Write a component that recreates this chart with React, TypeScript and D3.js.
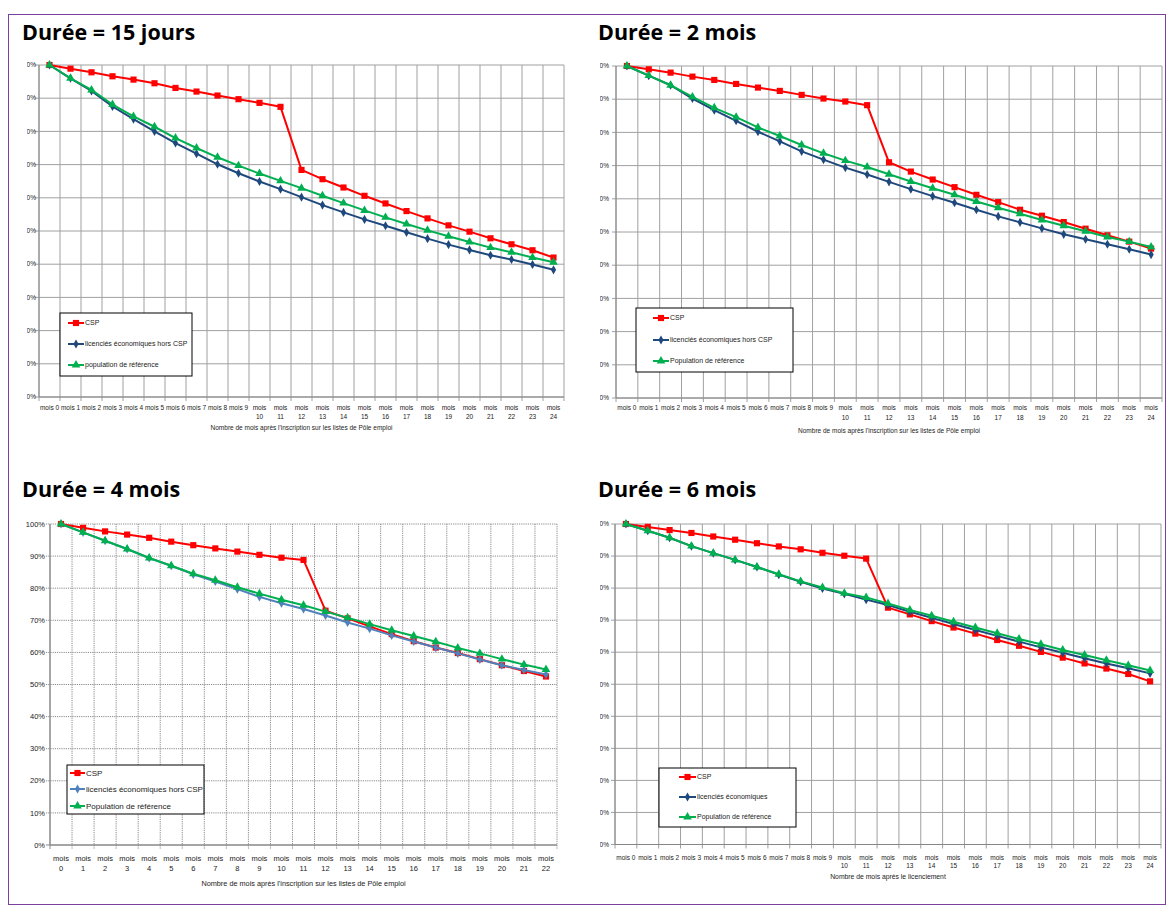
import React from 'react';
import * as d3 from 'd3';

// categories (months)
const mois24 = [0, 1, 2, 3, 4, 5, 6, 7, 8, 9, 10, 11, 12, 13, 14, 15, 16, 17, 18, 19, 20, 21, 22, 23, 24];
const mois22 = [0, 1, 2, 3, 4, 5, 6, 7, 8, 9, 10, 11, 12, 13, 14, 15, 16, 17, 18, 19, 20, 21, 22];
const yTicks = [0, 10, 20, 30, 40, 50, 60, 70, 80, 90, 100];

// Durée = 15 jours
const csp15j = [100, 98.9, 97.8, 96.6, 95.6, 94.5, 93.1, 92.0, 90.8, 89.7, 88.6, 87.4, 68.4, 65.6, 63.1, 60.6, 58.3, 56.0, 53.8, 51.7, 49.8, 47.8, 46.0, 44.2, 42.0];
const lic15j = [100, 96.0, 92.2, 87.5, 83.7, 80.0, 76.5, 73.3, 70.1, 67.4, 64.9, 62.6, 60.2, 57.8, 55.6, 53.5, 51.6, 49.6, 47.7, 45.9, 44.3, 42.7, 41.4, 39.9, 38.3];
const ref15j = [100, 96.0, 92.5, 88.1, 84.5, 81.4, 78.0, 75.0, 72.2, 69.7, 67.3, 65.1, 62.9, 60.6, 58.4, 56.2, 54.1, 52.1, 50.2, 48.4, 46.7, 45.0, 43.6, 42.0, 40.6];

// Durée = 2 mois
const csp2m = [100, 99.0, 98.0, 96.8, 95.8, 94.6, 93.5, 92.5, 91.3, 90.2, 89.3, 88.2, 71.0, 68.2, 65.8, 63.5, 61.2, 59.0, 56.7, 54.9, 53.0, 51.0, 49.0, 47.1, 45.0];
const lic2m = [100, 97.1, 94.2, 90.2, 86.7, 83.5, 80.2, 77.3, 74.3, 71.8, 69.4, 67.3, 65.1, 62.9, 60.8, 58.8, 56.7, 54.7, 52.9, 51.1, 49.3, 47.8, 46.3, 44.8, 43.2];
const ref2m = [100, 97.1, 94.2, 90.7, 87.4, 84.6, 81.5, 78.9, 76.2, 73.7, 71.5, 69.6, 67.4, 65.2, 63.2, 61.2, 59.2, 57.3, 55.5, 53.6, 51.9, 50.2, 48.5, 47.1, 45.5];

// Durée = 4 mois
const csp4m = [100, 98.8, 97.7, 96.7, 95.7, 94.5, 93.4, 92.4, 91.4, 90.4, 89.5, 88.8, 73.0, 70.6, 68.1, 65.7, 63.5, 61.5, 59.8, 57.9, 56.0, 54.2, 52.5];
const lic4m = [100, 97.4, 94.8, 92.2, 89.4, 87.0, 84.3, 82.1, 79.7, 77.3, 75.3, 73.5, 71.5, 69.3, 67.4, 65.3, 63.4, 61.5, 59.7, 57.8, 56.0, 54.5, 53.1];
const ref4m = [100, 97.4, 94.8, 92.2, 89.4, 87.0, 84.5, 82.5, 80.3, 78.3, 76.4, 74.7, 72.7, 70.8, 68.8, 66.9, 65.1, 63.3, 61.4, 59.7, 57.9, 56.2, 54.7];

// Durée = 6 mois
const csp6m = [100, 99.1, 98.1, 97.2, 96.1, 95.1, 94.0, 93.0, 92.1, 91.0, 90.1, 89.2, 73.9, 71.8, 69.7, 67.7, 65.8, 63.8, 62.0, 60.1, 58.3, 56.5, 54.9, 53.2, 50.9];
const lic6m = [100, 97.9, 95.7, 93.1, 90.9, 88.8, 86.6, 84.2, 82.0, 79.9, 78.2, 76.4, 74.7, 72.6, 70.7, 68.8, 66.9, 65.1, 63.3, 61.5, 59.8, 58.1, 56.5, 55.0, 53.4];
const ref6m = [100, 97.9, 95.7, 93.1, 90.9, 88.8, 86.6, 84.3, 82.1, 80.2, 78.4, 77.1, 75.2, 73.2, 71.4, 69.5, 67.7, 65.9, 64.1, 62.5, 60.7, 59.1, 57.5, 55.9, 54.3];

const titreInscription = "Nombre de mois après l'inscription sur les listes de Pôle emploi";
const titreLicenciement = 'Nombre de mois après le licenciement';

const RED = '#FF0000';
const NAVY = '#1F497D';
const LIGHTBLUE = '#4F81BD';
const GREEN = '#00B050';
const FONT = "'Liberation Sans', Arial, sans-serif";

const panels = [
    {
        id: 'p1', title: 'Durée = 15 jours', titleX: 22, titleY: 40,
        categories: mois24, left: 39, right: 564, top: 65, bottom: 397,
        series: [csp15j, lic15j, ref15j], blue: NAVY, dotted: false,
        names: ['CSP', 'licenciés économiques hors CSP', 'population de référence'],
        tickFont: 6.5, wrapAll: false, label1: 408, label2: 417, yLabelRight: 36, clipLeft: 27,
        axisTitle: titreInscription, axisTitleY: 430, axisFont: 6.5,
        legend: { x: 60, y: 313, w: 132, h: 63, rows: [323, 344, 365], lineX: 68, textX: 85, font: 7 }
    },
    {
        id: 'p2', title: 'Durée = 2 mois', titleX: 598, titleY: 40,
        categories: mois24, left: 616, right: 1162, top: 66, bottom: 398,
        series: [csp2m, lic2m, ref2m], blue: NAVY, dotted: false,
        names: ['CSP', 'licenciés économiques hors CSP', 'Population de référence'],
        tickFont: 6.5, wrapAll: false, label1: 408, label2: 417.5, yLabelRight: 609, clipLeft: 600,
        axisTitle: titreInscription, axisTitleY: 433, axisFont: 6.5,
        legend: { x: 636, y: 308, w: 157, h: 64, rows: [318, 340, 361], lineX: 653, textX: 670, font: 7 }
    },
    {
        id: 'p3', title: 'Durée = 4 mois', titleX: 22, titleY: 497,
        categories: mois22, left: 50, right: 557, top: 524, bottom: 845,
        series: [csp4m, lic4m, ref4m], blue: LIGHTBLUE, dotted: true,
        names: ['CSP', 'licenciés économiques hors CSP', 'Population de référence'],
        tickFont: 7.5, wrapAll: true, label1: 858, label2: 868.5, yLabelRight: 45, clipLeft: 0,
        axisTitle: titreInscription, axisTitleY: 886, axisFont: 7.3,
        legend: { x: 67, y: 765, w: 137, h: 49, rows: [773, 789, 806], lineX: 70, textX: 86, font: 8 }
    },
    {
        id: 'p4', title: 'Durée = 6 mois', titleX: 598, titleY: 497,
        categories: mois24, left: 615, right: 1161, top: 524, bottom: 844.5,
        series: [csp6m, lic6m, ref6m], blue: NAVY, dotted: false,
        names: ['CSP', 'licenciés économiques', 'Population de référence'],
        tickFont: 6.5, wrapAll: false, label1: 857.7, label2: 865.5, yLabelRight: 609, clipLeft: 600,
        axisTitle: titreLicenciement, axisTitleY: 879, axisFont: 6.8,
        legend: { x: 659, y: 768, w: 137, h: 59, rows: [777, 797, 817], lineX: 679, textX: 697, font: 7 }
    }
];

const symbols = [
    d3.symbol().type(d3.symbolSquare).size(38),
    d3.symbol().type(d3.symbolDiamond).size(24),
    d3.symbol().type(d3.symbolTriangle).size(32)
];

function Panel({ cfg }: { cfg: any }) {
    const x = d3.scaleBand<string>().domain(cfg.categories.map(String)).range([cfg.left, cfg.right]);
    const y = d3.scaleLinear().domain([0, 100]).range([cfg.bottom, cfg.top]);
    const cx = (c: number) => (x(String(c)) as number) + x.bandwidth() / 2;
    const colors = [RED, cfg.blue, GREEN];
    const gridColor = cfg.dotted ? '#8a8a8a' : '#a0a0a0';
    const dash = cfg.dotted ? '1.2,1' : null;
    const line = d3.line<number>().x((d, i) => cx(cfg.categories[i])).y(d => y(d));
    const bounds = cfg.categories.map((c: number) => x(String(c)) as number).concat([cfg.right]);
    const lg = cfg.legend;

    return (
        <g>
            <text x={cfg.titleX} y={cfg.titleY} fontFamily="'Open Sans', sans-serif" fontWeight={700} fontSize={21.5} fill="#000">
                {cfg.title}
            </text>
            {/* horizontal grid + y ticks */}
            {yTicks.map(t => (
                <line key={'h' + t} x1={cfg.left - 4} x2={cfg.right} y1={y(t)} y2={y(t)} stroke={gridColor} strokeWidth={1}
                      strokeDasharray={t === 0 ? null : dash} />
            ))}
            {/* vertical grid + x ticks */}
            {bounds.map((b: number, i: number) => (
                <line key={'v' + i} x1={b} x2={b} y1={cfg.top} y2={cfg.bottom + 4} stroke={gridColor} strokeWidth={1}
                      strokeDasharray={i === 0 ? null : dash} />
            ))}
            <line x1={cfg.left} x2={cfg.left} y1={cfg.top} y2={cfg.bottom} stroke="#868686" />
            <line x1={cfg.left} x2={cfg.right} y1={cfg.bottom} y2={cfg.bottom} stroke="#868686" />
            {/* y labels (clipped like the original) */}
            <defs>
                <clipPath id={'clip-' + cfg.id}>
                    <rect x={cfg.clipLeft} y={cfg.top - 10} width={cfg.left - cfg.clipLeft} height={cfg.bottom - cfg.top + 20} />
                </clipPath>
            </defs>
            <g clipPath={`url(#clip-${cfg.id})`}>
                {yTicks.map(t => (
                    <text key={'yl' + t} x={cfg.yLabelRight} y={y(t)} dy="0.35em" textAnchor="end"
                          fontFamily={FONT} fontSize={cfg.tickFont} fill="#222">{t + '%'}</text>
                ))}
            </g>
            {/* x labels */}
            {cfg.categories.map((c: number) => {
                const two = cfg.wrapAll || c >= 10;
                return two ? (
                    <g key={'xl' + c}>
                        <text x={cx(c)} y={cfg.label1} dy="0.35em" textAnchor="middle" fontFamily={FONT} fontSize={cfg.tickFont} fill="#222">mois</text>
                        <text x={cx(c)} y={cfg.label2} dy="0.35em" textAnchor="middle" fontFamily={FONT} fontSize={cfg.tickFont} fill="#222">{c}</text>
                    </g>
                ) : (
                    <text key={'xl' + c} x={cx(c)} y={cfg.label1} dy="0.35em" textAnchor="middle" fontFamily={FONT} fontSize={cfg.tickFont} fill="#222">
                        {'mois ' + c}
                    </text>
                );
            })}
            <text x={(cfg.left + cfg.right) / 2} y={cfg.axisTitleY} textAnchor="middle" fontFamily={FONT} fontSize={cfg.axisFont} fill="#222">
                {cfg.axisTitle}
            </text>
            {/* series */}
            {cfg.series.map((s: number[], k: number) => (
                <g key={'s' + k}>
                    <path d={line(s) as string} fill="none" stroke={colors[k]} strokeWidth={2} strokeLinejoin="round" />
                    {s.map((v, i) => (
                        <path key={i} d={symbols[k]() as string} transform={`translate(${cx(cfg.categories[i])},${y(v)})`} fill={colors[k]} />
                    ))}
                </g>
            ))}
            {/* legend */}
            <rect x={lg.x} y={lg.y} width={lg.w} height={lg.h} fill="#fff" stroke="#000" strokeWidth={1} />
            {cfg.names.map((n: string, k: number) => (
                <g key={'lg' + k}>
                    <line x1={lg.lineX} x2={lg.textX - 1} y1={lg.rows[k]} y2={lg.rows[k]} stroke={colors[k]} strokeWidth={2} />
                    <path d={symbols[k]() as string} transform={`translate(${(lg.lineX + lg.textX - 1) / 2},${lg.rows[k]})`} fill={colors[k]} />
                    <text x={lg.textX} y={lg.rows[k]} dy="0.35em" fontFamily={FONT} fontSize={lg.font} fill="#222">{n}</text>
                </g>
            ))}
        </g>
    );
}

export default function App() {
    return (
        <svg width={1173} height={914} style={{ position: 'absolute', left: 0, top: 0, background: '#fff' }}>
            <rect x={0} y={0} width={1173} height={914} fill="#fff" />
            <rect x={8.5} y={14.5} width={1157} height={890} fill="none" stroke="#7B3F9E" strokeWidth={1} />
            {panels.map(p => <Panel key={p.id} cfg={p} />)}
        </svg>
    );
}
